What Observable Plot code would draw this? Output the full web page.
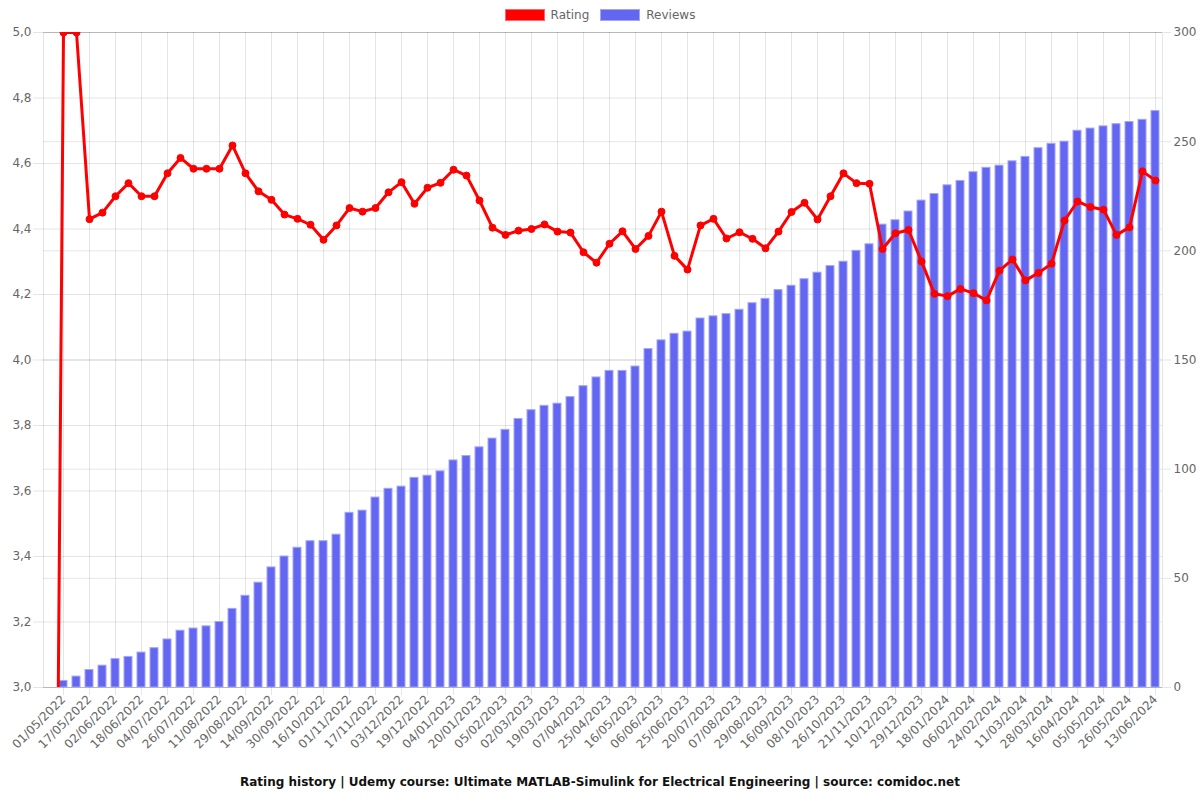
<!DOCTYPE html>
<html>
<head>
<meta charset="utf-8">
<script src="https://cdn.jsdelivr.net/npm/d3@7"></script>
<script src="https://cdn.jsdelivr.net/npm/@observablehq/plot@0.6"></script>
<style>
  html, body { margin: 0; padding: 0; background: #fff; }
  body { width: 1200px; height: 800px; position: relative; font-family: "DejaVu Sans", sans-serif; }
  #legend { position: absolute; top: 8px; left: 0; width: 1200px; display: flex; justify-content: center; gap: 11px; font-size: 12px; color: #666; }
  .item { display: flex; align-items: center; gap: 6px; }
  .sw { width: 40px; height: 12px; box-sizing: border-box; }
  #chart { position: absolute; top: 0; left: 0; }
  #caption { position: absolute; top: 775px; left: 0; width: 1200px; text-align: center; font-weight: bold; font-size: 12px; color: #111; }
</style>
</head>
<body>
<div id="legend">
  <div class="item"><div class="sw" style="background:#ff0000;border:1px solid #ff6666"></div><span>Rating</span></div>
  <div class="item"><div class="sw" style="background:#6366f1;border:1px solid #a3a5f7"></div><span>Reviews</span></div>
</div>
<div id="chart"></div>
<div id="caption">Rating history | Udemy course: Ultimate MATLAB-Simulink for Electrical Engineering | source: comidoc.net</div>
<script>
// Rating per snapshot (index 0 is the unlabelled starting point at 0)
const ratings = [0,
  5.0, 5.0, 4.43, 4.45, 4.50, 4.54, 4.50, 4.50, 4.57, 4.617,
  4.584, 4.584, 4.584, 4.655, 4.57, 4.515, 4.489, 4.444, 4.431, 4.413,
  4.367, 4.411, 4.464, 4.453, 4.464, 4.512, 4.543, 4.477, 4.526, 4.541,
  4.581, 4.563, 4.487, 4.404, 4.382, 4.395, 4.40, 4.414, 4.392, 4.389,
  4.329, 4.297, 4.355, 4.393, 4.339, 4.379, 4.453, 4.318, 4.276, 4.411,
  4.431, 4.371, 4.39, 4.37, 4.341, 4.392, 4.452, 4.48, 4.429, 4.50,
  4.57, 4.54, 4.538, 4.339, 4.387, 4.397, 4.301, 4.202, 4.195, 4.217,
  4.204, 4.182, 4.273, 4.307, 4.243, 4.266, 4.294, 4.426, 4.484, 4.467,
  4.459, 4.382, 4.405, 4.576, 4.548];
// Cumulative number of reviews per snapshot
const reviews = [0,
  3, 5, 8, 10, 13, 14, 16, 18, 22, 26,
  27, 28, 30, 36, 42, 48, 55, 60, 64, 67,
  67, 70, 80, 81, 87, 91, 92, 96, 97, 99,
  104, 106, 110, 114, 118, 123, 127, 129, 130, 133,
  138, 142, 145, 145, 147, 155, 159, 162, 163, 169,
  170, 171, 173, 176, 178, 182, 184, 187, 190, 193,
  195, 200, 203, 212, 214, 218, 223, 226, 230, 232,
  236, 238, 239, 241, 243, 247, 249, 250, 255, 256,
  257, 258, 259, 260, 264];
// Tick labels shown on every other snapshot (odd indices)
const tickLabels = ["01/05/2022","17/05/2022","02/06/2022","18/06/2022","04/07/2022","26/07/2022","11/08/2022","29/08/2022","14/09/2022","30/09/2022","16/10/2022","01/11/2022","17/11/2022","03/12/2022","19/12/2022","04/01/2023","20/01/2023","05/02/2023","02/03/2023","19/03/2023","07/04/2023","25/04/2023","16/05/2023","06/06/2023","25/06/2023","20/07/2023","07/08/2023","29/08/2023","16/09/2023","08/10/2023","26/10/2023","21/11/2023","10/12/2023","29/12/2023","18/01/2024","06/02/2024","24/02/2024","11/03/2024","28/03/2024","16/04/2024","05/05/2024","26/05/2024","13/06/2024"];
const ratingTicks = [3.0, 3.2, 3.4, 3.6, 3.8, 4.0, 4.2, 4.4, 4.6, 4.8, 5.0];
const reviewTicks = [0, 50, 100, 150, 200, 250, 300];

const idx = d3.range(ratings.length);
const labelTicks = idx.filter(i => i % 2 === 1);
const data = idx.map(i => ({i, rating: ratings[i], reviews: reviews[i]}));
// map reviews (0..300) onto the rating axis (3..5)
const rv = d3.scaleLinear([0, 300], [3, 5]);

const chart = Plot.plot({
  width: 1200,
  height: 770,
  marginTop: 32,
  marginBottom: 83,
  marginLeft: 43,
  marginRight: 38,
  style: {fontFamily: "DejaVu Sans", fontSize: "12px", color: "#666", background: "transparent"},
  x: {type: "band", domain: idx, paddingInner: 0.42, paddingOuter: 0.21},
  y: {domain: [3, 5]},
  marks: [
    Plot.gridX(labelTicks, {stroke: "#000", strokeOpacity: 0.1}),
    Plot.gridY(ratingTicks, {stroke: "#000", strokeOpacity: 0.1}),
    Plot.gridY(reviewTicks.map(rv), {stroke: "#000", strokeOpacity: 0.1}),
    Plot.frame({stroke: "#000", strokeOpacity: 0.1}),
    Plot.barY(data, {x: "i", y1: 3, y2: d => rv(d.reviews), fill: "#6366f1", stroke: "#a3a5f7", strokeWidth: 1}),
    Plot.line(data, {x: "i", y: "rating", stroke: "#ff0000", strokeWidth: 3, clip: true}),
    Plot.dot(data, {x: "i", y: "rating", r: 3.5, fill: "#ff0000", stroke: "#ff0000", strokeWidth: 1, clip: true}),
    Plot.axisY(ratingTicks, {anchor: "left", tickSize: 10, tickPadding: 2, stroke: "#000", strokeOpacity: 0.1, tickFormat: d => d.toFixed(1).replace(".", ","), label: null, fill: "#666"}),
    Plot.axisY(reviewTicks.map(rv), {anchor: "right", tickSize: 8, tickPadding: 3, stroke: "#000", strokeOpacity: 0.1, tickFormat: d => String(Math.round(rv.invert(d))), label: null, fill: "#666"}),
    Plot.axisX(labelTicks, {tickSize: 8, tickPadding: 2, stroke: "#000", strokeOpacity: 0.1, tickRotate: -45, tickFormat: i => tickLabels[(i - 1) / 2], label: null, fill: "#666"})
  ]
});
document.getElementById("chart").appendChild(chart);
</script>
</body>
</html>
